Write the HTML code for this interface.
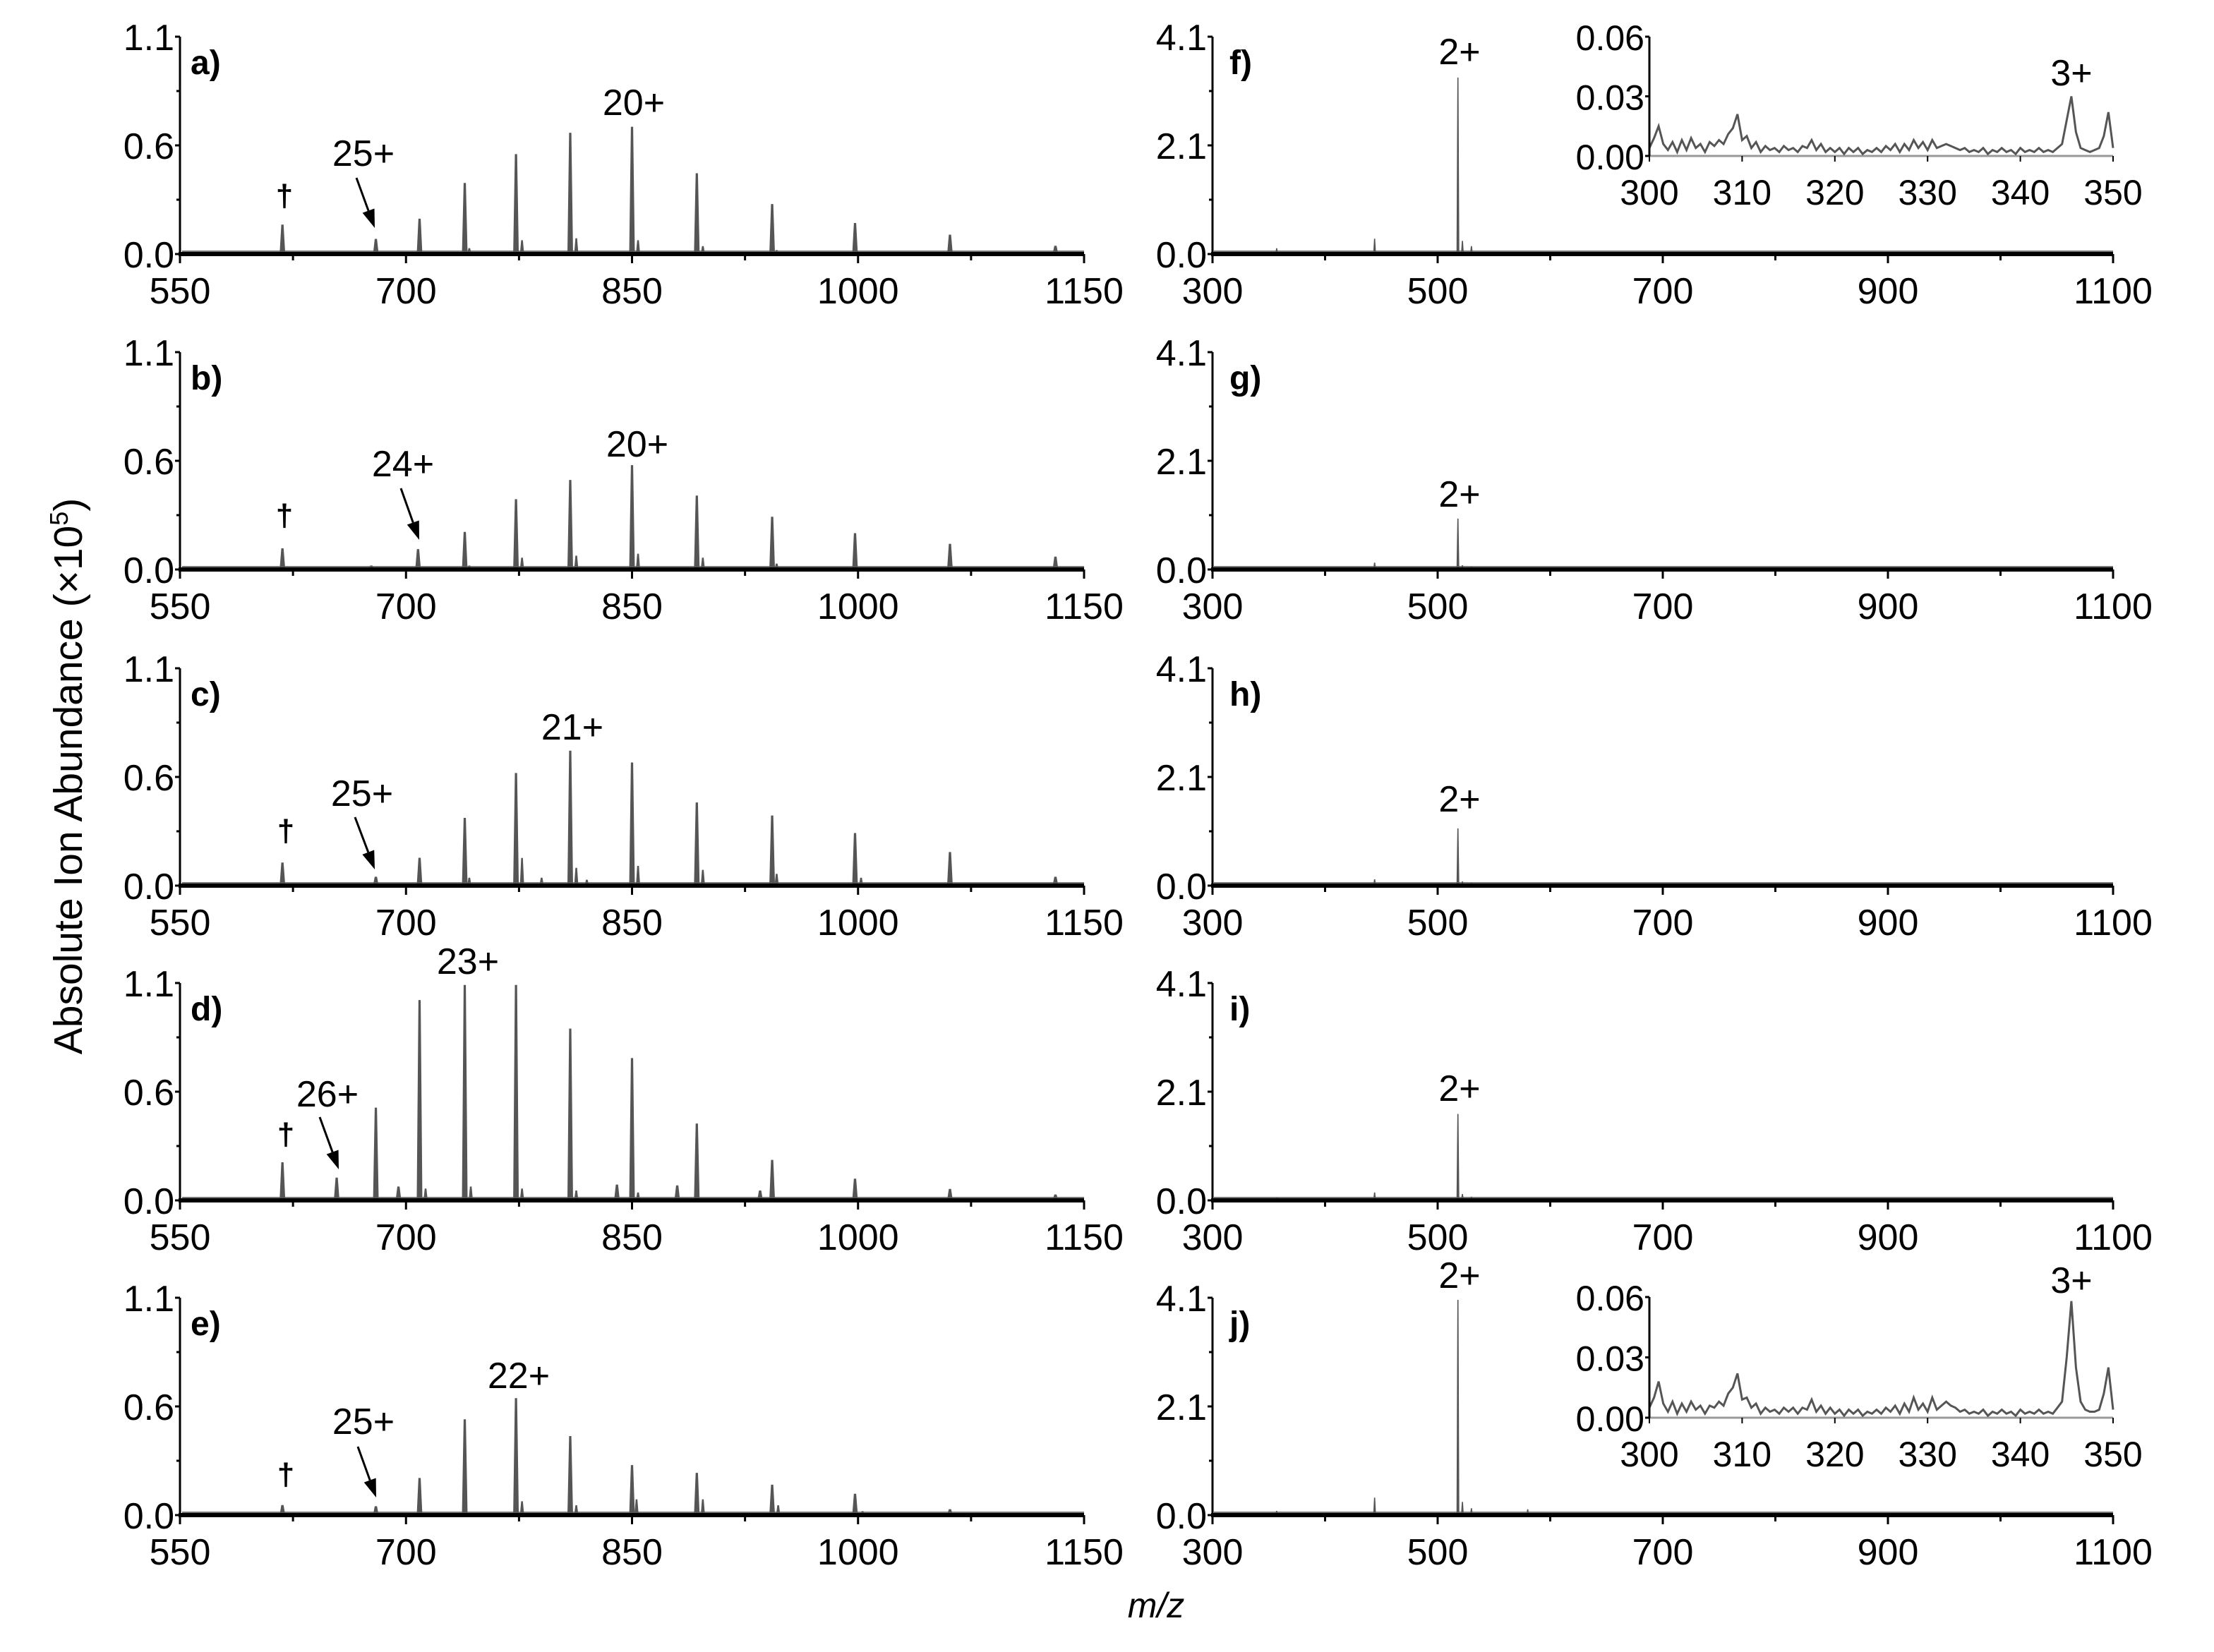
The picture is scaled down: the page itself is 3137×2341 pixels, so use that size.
<!DOCTYPE html>
<html><head><meta charset="utf-8"><style>
html,body{margin:0;padding:0;background:#fff;}
svg{display:block;font-family:"Liberation Sans",Arial,sans-serif;}
</style></head><body>
<svg id="fig" width="3137" height="2341" viewBox="0 0 3137 2341" xmlns="http://www.w3.org/2000/svg">
<rect x="0" y="0" width="3137" height="2341" fill="#fff"/>
<text transform="translate(116,1100) rotate(-90)" text-anchor="middle" font-size="57">Absolute Ion Abundance (×10<tspan baseline-shift="super" font-size="36">5</tspan>)</text>
<text x="1638" y="2292" text-anchor="middle" font-size="50" font-style="italic">m/z</text>
</svg>
<script>
// ---- data ----
const panelLetters = ["a","b","c","d","e"];
const rightLetters = ["f","g","h","i","j"];
const leftXTicks = [550,700,850,1000,1150];
const leftXMinor = [625,775,925,1075];
const leftYTicks = [0,0.55,1.1];
const leftYTickLabels = ["0.0","0.6","1.1"];
const rightXTicks = [300,500,700,900,1100];
const rightXMinor = [400,600,800,1000];
const rightYTicks = [0,2.05,4.1];
const rightYTickLabels = ["0.0","2.1","4.1"];
const insetXTicks = [300,310,320,330,340,350];
const insetYTicks = [0,0.03,0.06];
const insetYTickLabels = ["0.00","0.03","0.06"];

const mzA = [618,680,709,739,773,809,850,893,943,998,1061,1131];
const abA = [0.149,0.077,0.179,0.36,0.506,0.614,0.644,0.409,0.253,0.157,0.098,0.042];
const satMzA = [742,777,813,854,897,946];
const satAbA = [0.03,0.07,0.08,0.07,0.04,0.02];

const mzB = [618,677,708,739,773,809,850,893,943,998,1061,1131];
const abB = [0.107,0.02,0.103,0.19,0.356,0.453,0.528,0.374,0.267,0.184,0.13,0.065];
const satMzB = [742,777,813,854,897,946];
const satAbB = [0.02,0.06,0.07,0.08,0.06,0.03];

const mzC = [618,680,709,739,773,809,850,893,943,998,1061,1131];
const abC = [0.117,0.045,0.141,0.343,0.57,0.683,0.623,0.421,0.355,0.266,0.17,0.045];
const satMzC = [742,777,790,813,820,854,897,946,1002];
const satAbC = [0.04,0.14,0.04,0.09,0.03,0.1,0.08,0.06,0.04];

const mzD = [618,654,680,695,709,739,773,809,840,850,880,893,935,943,998,1061,1131];
const abD = [0.193,0.115,0.469,0.07,1.014,1.09,1.09,0.869,0.08,0.72,0.076,0.389,0.05,0.205,0.11,0.058,0.03];
const satMzD = [713,743,777,813,854];
const satAbD = [0.06,0.07,0.06,0.05,0.04];

const mzE = [618,680,709,739,773,809,850,893,943,998,1061,1131];
const abE = [0.051,0.045,0.188,0.485,0.592,0.4,0.253,0.214,0.154,0.108,0.03,0.01];
const satMzE = [777,813,853,897,947,1003];
const satAbE = [0.07,0.05,0.08,0.08,0.05,0.02];

const mzRight = [357,444,518,522,530,580];
const abF = [0.11,0.29,3.33,0.25,0.15,0.03];
const abG = [0.03,0.13,0.96,0.08,0.05,0.02];
const abH = [0.03,0.12,1.08,0.08,0.05,0.02];
const abI = [0.05,0.15,1.63,0.12,0.07,0.03];
const abJ = [0.08,0.33,4.06,0.25,0.13,0.11];

const insetStart = 300, insetStep = 0.5;
const insetF = [0.004,0.009,0.015,0.006,0.003,0.007,0.002,0.008,0.003,0.009,0.004,0.006,0.002,0.007,0.005,0.008,0.006,0.011,0.014,0.021,0.008,0.010,0.004,0.007,0.002,0.005,0.003,0.004,0.002,0.005,0.003,0.004,0.002,0.005,0.004,0.008,0.003,0.006,0.002,0.004,0.002,0.004,0.001,0.004,0.002,0.004,0.001,0.003,0.002,0.004,0.002,0.005,0.003,0.006,0.002,0.006,0.003,0.008,0.004,0.007,0.003,0.008,0.004,0.005,0.006,0.005,0.004,0.003,0.004,0.002,0.003,0.002,0.004,0.001,0.003,0.002,0.004,0.002,0.003,0.001,0.004,0.002,0.003,0.002,0.004,0.002,0.003,0.002,0.004,0.006,0.018,0.030,0.012,0.004,0.003,0.002,0.003,0.004,0.010,0.022,0.004];
const insetJ = [0.005,0.010,0.018,0.007,0.003,0.008,0.002,0.007,0.003,0.008,0.004,0.006,0.002,0.006,0.005,0.008,0.006,0.012,0.015,0.022,0.009,0.010,0.005,0.007,0.002,0.005,0.003,0.004,0.002,0.005,0.003,0.005,0.002,0.005,0.004,0.009,0.003,0.006,0.002,0.005,0.002,0.004,0.001,0.004,0.002,0.004,0.001,0.003,0.002,0.004,0.002,0.005,0.003,0.006,0.002,0.007,0.003,0.010,0.004,0.007,0.003,0.010,0.004,0.006,0.008,0.006,0.005,0.003,0.004,0.002,0.003,0.002,0.004,0.001,0.003,0.002,0.004,0.002,0.003,0.001,0.004,0.002,0.003,0.002,0.004,0.002,0.003,0.002,0.005,0.008,0.030,0.058,0.025,0.008,0.004,0.003,0.003,0.004,0.012,0.025,0.004];

const leftPanels = [
 {mz:mzA,ab:abA,smz:satMzA,sab:satAbA,lbl:"20+",lx:898,ly:163,l2:"25+",l2x:515,l2y:235,ar:[505,252,531,323],dg:[403,292]},
 {mz:mzB,ab:abB,smz:satMzB,sab:satAbB,lbl:"20+",lx:903,ly:647,l2:"24+",l2x:571,l2y:675,ar:[568,692,594,765],dg:[403,745]},
 {mz:mzC,ab:abC,smz:satMzC,sab:satAbC,lbl:"21+",lx:811,ly:1048,l2:"25+",l2x:513,l2y:1142,ar:[503,1158,531,1232],dg:[405,1192]},
 {mz:mzD,ab:abD,smz:satMzD,sab:satAbD,lbl:"23+",lx:663,ly:1380,l2:"26+",l2x:464,l2y:1568,ar:[453,1583,480,1657],dg:[405,1622]},
 {mz:mzE,ab:abE,smz:satMzE,sab:satAbE,lbl:"22+",lx:735,ly:1967,l2:"25+",l2x:515,l2y:2032,ar:[507,2050,533,2122],dg:[405,2104]}
];
const rightAbs = [abF,abG,abH,abI,abJ];
const rightLabelY = [91,718,1150,1560,1825];
const tops = [52,499,947,1393,1839];
const PH = 308;

const NS = "http://www.w3.org/2000/svg";
const svg = document.getElementById("fig");
function mk(tag, attrs, parent, text){
  const e = document.createElementNS(NS, tag);
  for (const k in attrs) e.setAttribute(k, attrs[k]);
  if (text !== undefined) e.textContent = text;
  (parent||svg).appendChild(e);
  return e;
}
function lin(d0,d1,r0,r1){ return v => r0 + (v-d0)/(d1-d0)*(r1-r0); }

function spike(g, x, y0, y1, hw, name){
  const p = mk("path",{d:`M${x-hw},${y0} L${x-hw*0.4},${y1} L${x+hw*0.4},${y1} L${x+hw},${y0} Z`,fill:"#555"},g);
  
  
}

function axes(g, X, Y, x0, x1, y0, y1, xt, xm, yt, ytl, minorY, fs){
  const la = mk("line",{x1:x0,y1:y1,x2:x0,y2:y0,stroke:"#000","stroke-width":3},g);
  
  
  yt.forEach((v,i)=>{
    mk("line",{x1:x0-7,x2:x0,y1:Y(v),y2:Y(v),stroke:"#000","stroke-width":3},g);
    const t = mk("text",{x:x0-8,y:Y(v)+19,"text-anchor":"end","font-size":fs},g,ytl[i]);
    
    
  });
  minorY.forEach(v=>mk("line",{x1:x0-5,x2:x0,y1:Y(v),y2:Y(v),stroke:"#000","stroke-width":3},g));
  const ba = mk("line",{x1:x0-2,x2:x1,y1:y0,y2:y0,stroke:"#000","stroke-width":6},g);
  
  
  xt.forEach(v=>{
    mk("line",{x1:X(v),x2:X(v),y1:y0,y2:y0+13,stroke:"#000","stroke-width":3},g);
    const t = mk("text",{x:X(v),y:y0+70,"text-anchor":"middle","font-size":fs},g,String(v));
    
    
  });
  xm.forEach(v=>mk("line",{x1:X(v),x2:X(v),y1:y0,y2:y0+9,stroke:"#000","stroke-width":3},g));
}

leftPanels.forEach((p,i)=>{
  const g = mk("g",{});
  
  
  const top = tops[i], y0 = top+PH;
  const X = lin(550,1150,255,1536), Y = lin(0,1.1,y0,top);
  mk("line",{x1:258,x2:1536,y1:y0-4,y2:y0-4,stroke:"#777","stroke-width":2},g);
  p.smz.forEach((m,k)=>spike(g,X(m),y0,Y(p.sab[k]),3,'satellite-peak'));
  p.mz.forEach((m,k)=>spike(g,X(m),y0,Y(p.ab[k]),4,'peak'));
  axes(g,X,Y,255,1536,y0,top,leftXTicks,leftXMinor,leftYTicks,leftYTickLabels,[0.275,0.825],52);
  const pl = mk("text",{x:270,y:top+53,"font-size":48,"font-weight":"bold"},g,panelLetters[i]+")");
  
  
  const l1 = mk("text",{x:p.lx,y:p.ly,"text-anchor":"middle","font-size":52},g,p.lbl);
  
  
  const l2 = mk("text",{x:p.l2x,y:p.l2y,"text-anchor":"middle","font-size":52},g,p.l2);
  
  
  const a = p.ar, dx=a[2]-a[0], dy=a[3]-a[1], L=Math.hypot(dx,dy), ux=dx/L, uy=dy/L;
  const bx=a[2]-ux*26, by=a[3]-uy*26;
  mk("line",{x1:a[0],y1:a[1],x2:bx,y2:by,stroke:"#000","stroke-width":3},g);
  const ah = mk("path",{d:`M${a[2]},${a[3]} L${bx-uy*9},${by+ux*9} L${bx+uy*9},${by-ux*9} Z`,fill:"#000"},g);
  
  
  const dg = mk("text",{x:p.dg[0],y:p.dg[1],"text-anchor":"middle","font-size":44,"font-weight":"bold"},g,"†");
  
  
});

rightAbs.forEach((ab,i)=>{
  const g = mk("g",{});
  
  
  const top = tops[i], y0 = top+PH;
  const X = lin(300,1100,1718,2994), Y = lin(0,4.1,y0,top);
  mk("line",{x1:1720,x2:2994,y1:y0-4,y2:y0-4,stroke:"#777","stroke-width":2},g);
  mzRight.forEach((m,k)=>spike(g,X(m),y0,Y(ab[k]),2,'peak'));
  axes(g,X,Y,1718,2994,y0,top,rightXTicks,rightXMinor,rightYTicks,rightYTickLabels,[1.025,3.075],52);
  const pl = mk("text",{x:1742,y:top+53,"font-size":48,"font-weight":"bold"},g,rightLetters[i]+")");
  
  
  const l1 = mk("text",{x:2068,y:rightLabelY[i],"text-anchor":"middle","font-size":52},g,"2+");
  
  
});

[[insetF,52,221,121],[insetJ,1838,2009,1832]].forEach((ins,n)=>{
  const vals = ins[0], top = ins[1], y0 = ins[2];
  const g = mk("g",{});
  
  
  const X = lin(300,350,2337,2994), Y = lin(0,0.06,y0,top);
  mk("line",{x1:2337,x2:2994,y1:y0,y2:y0,stroke:"#999","stroke-width":3},g);
  let d = "";
  vals.forEach((v,k)=>{ d += (k?"L":"M") + X(insetStart+k*insetStep).toFixed(1) + "," + Y(v).toFixed(1) + " "; });
  const ln = mk("path",{d:d,fill:"none",stroke:"#555","stroke-width":3},g);
  
  
  mk("line",{x1:2337,x2:2337,y1:top,y2:y0,stroke:"#000","stroke-width":3},g);
  insetYTicks.forEach((v,k)=>{
    mk("line",{x1:2331,x2:2337,y1:Y(v),y2:Y(v),stroke:"#000","stroke-width":3},g);
    const t = mk("text",{x:2330,y:Y(v)+19,"text-anchor":"end","font-size":50},g,insetYTickLabels[k]);
    
    
  });
  insetXTicks.forEach(v=>{
    mk("line",{x1:X(v),x2:X(v),y1:y0,y2:y0+8,stroke:"#000","stroke-width":2},g);
    const t = mk("text",{x:X(v),y:y0+69,"text-anchor":"middle","font-size":50},g,String(v));
    
    
  });
  const l = mk("text",{x:2935,y:ins[3],"text-anchor":"middle","font-size":52},g,"3+");
  
  
});
</script>
</body></html>
